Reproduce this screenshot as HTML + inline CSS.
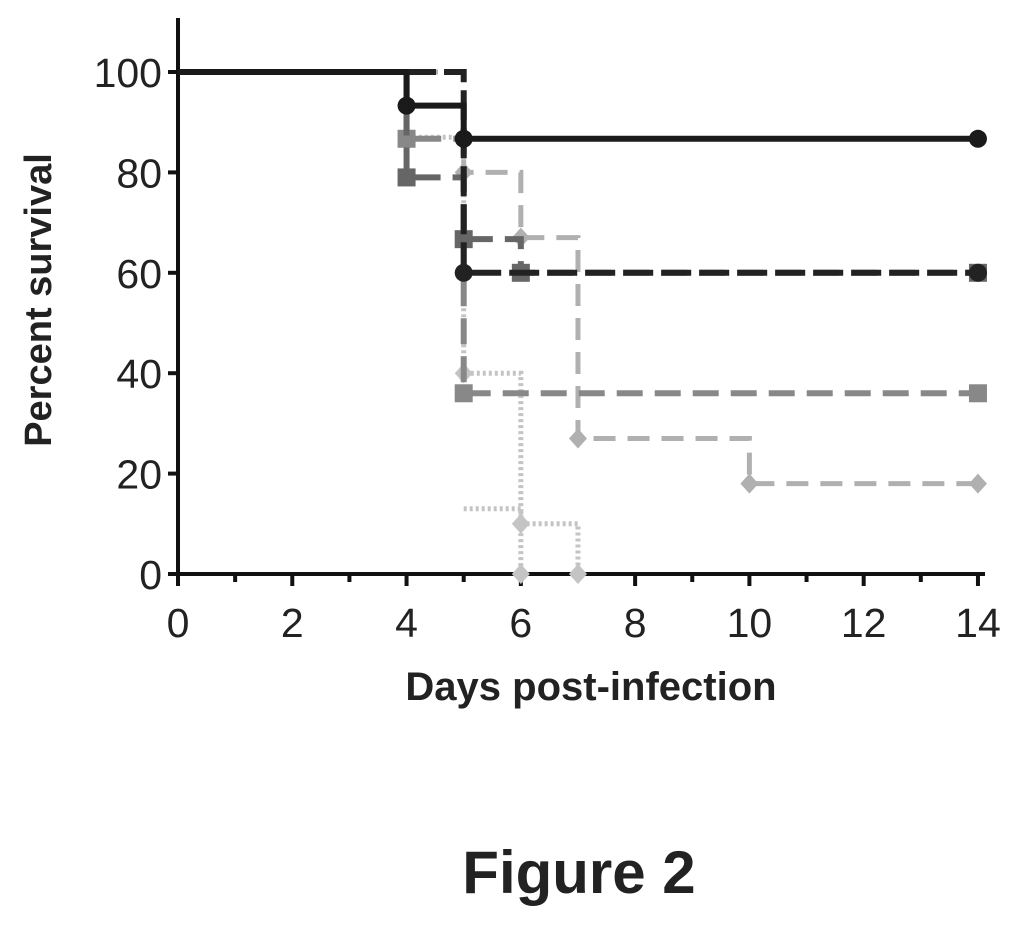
<!DOCTYPE html>
<html><head><meta charset="utf-8"><style>
body{margin:0;background:#fff;width:1024px;height:931px;overflow:hidden;font-family:"Liberation Sans",sans-serif}
</style></head><body>
<svg width="1024" height="931" xmlns="http://www.w3.org/2000/svg">
<g id="axes"></g>
<g id="series"></g>
<text x="0" y="0" transform="translate(51,300) rotate(-90)" text-anchor="middle" font-size="38" font-weight="bold" fill="#222">Percent survival</text>
<text x="591" y="700" text-anchor="middle" font-size="40" font-weight="bold" fill="#222">Days post-infection</text>
<text x="579" y="893" text-anchor="middle" font-size="60" font-weight="bold" fill="#222">Figure 2</text>
</svg>
<script>
const xTicks=[0,2,4,6,8,10,12,14];
const yTicks=[0,20,40,60,80,100];
const s1x=[0,4,5,14], s1y=[100,93.3,86.7,86.7];
const s2x=[0,5,14], s2y=[100,60,60];
const s3x=[0,4,5,6,14], s3y=[100,79,66.7,60,60];
const s4x=[0,4,5,14], s4y=[100,86.7,36,36];
const s5x=[0,5,6,7,10,14], s5y=[100,80,67,27,18,18];
const s6x=[0,4,5,6], s6y=[100,87,40,0];
const s7x=[5,6,7], s7y=[13,10,0];
const X=d=>178+d*57.14, Y=p=>574-p*5.02;
const NS="http://www.w3.org/2000/svg";
function mk(t,a,parent){const e=document.createElementNS(NS,t);for(const k in a)e.setAttribute(k,a[k]);parent.appendChild(e);return e;}
const ax=document.getElementById('axes');
let l=mk('line',{x1:178,y1:18,x2:178,y2:580,stroke:'#111','stroke-width':4},ax);


l=mk('line',{x1:172,y1:574,x2:985,y2:574,stroke:'#111','stroke-width':4},ax);


for(let d=0;d<=14;d++){const maj=d%2==0;const t=mk('line',{x1:X(d),y1:574,x2:X(d),y2:maj?586:582,stroke:'#111','stroke-width':4},ax);

}
xTicks.forEach(v=>{const t=mk('text',{x:X(v),y:637,'text-anchor':'middle','font-size':41,fill:'#222'},ax);t.textContent=v;

});
yTicks.forEach(v=>{const t=mk('line',{x1:168,y1:Y(v),x2:178,y2:Y(v),stroke:'#111','stroke-width':4},ax);


const tx=mk('text',{x:162,y:Y(v)+15,'text-anchor':'end','font-size':41,fill:'#222'},ax);tx.textContent=v;

});
const sg=document.getElementById('series');
function step(xs,ys,color,w,dash,marker,name){
 let d='M'+X(xs[0])+' '+Y(ys[0]);
 for(let i=1;i<xs.length;i++){d+=' H'+X(xs[i])+' V'+Y(ys[i]);}
 const p=mk('path',{d:d,fill:'none',stroke:color,'stroke-width':w,'stroke-dasharray':dash},sg);
 
 
 for(let i=1;i<xs.length;i++){const cx=X(xs[i]),cy=Y(ys[i]);let m;
  if(marker=='c')m=mk('circle',{cx:cx,cy:cy,r:9,fill:color},sg);
  else if(marker=='s')m=mk('rect',{x:cx-9,y:cy-9,width:18,height:18,fill:color},sg);
  else m=mk('polygon',{points:`${cx},${cy-10} ${cx+9},${cy} ${cx},${cy+10} ${cx-9},${cy}`,fill:color},sg);
  
  }
}
step(s7x,s7y,'#c4c4c4',5,'3 3','d','series-7');
step(s6x,s6y,'#c4c4c4',5,'3 3','d','series-6');
step(s5x,s5y,'#b0b0b0',5,'22 12','d','series-5');
step(s4x,s4y,'#888',6,'26 12','s','series-4');
step(s3x,s3y,'#666',6,'26 12','s','series-3');
step(s2x,s2y,'#222',6,'30 8','c','series-2');
step(s1x,s1y,'#1a1a1a',6,'','c','series-1');
</script>
</body></html>
